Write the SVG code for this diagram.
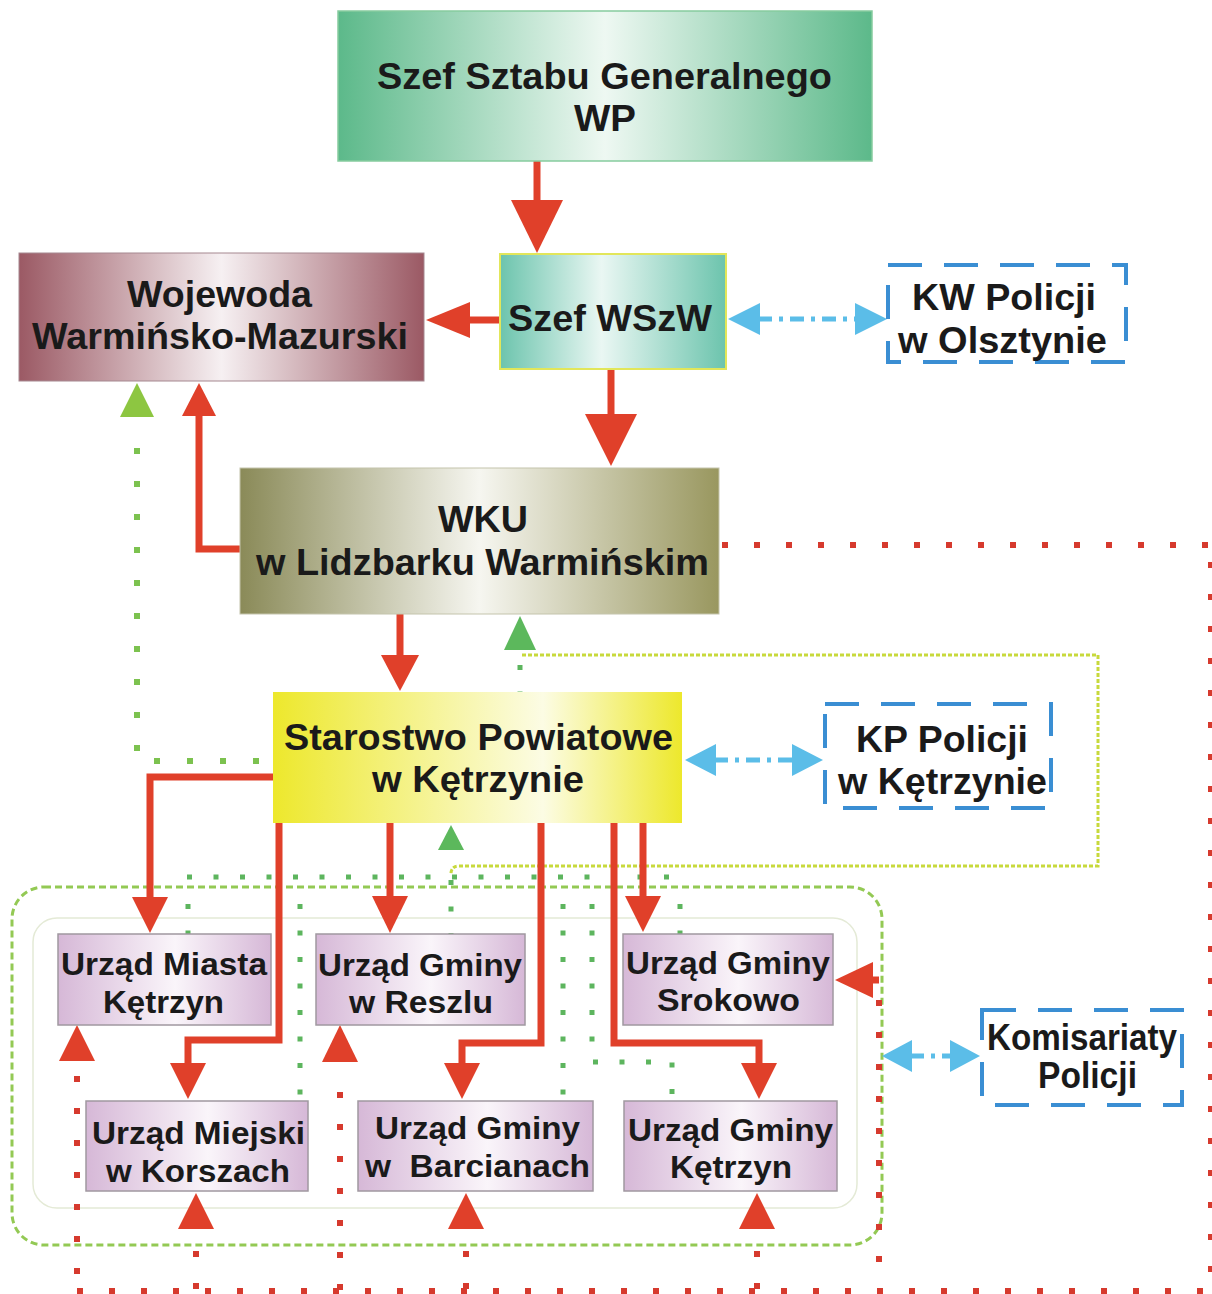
<svg xmlns="http://www.w3.org/2000/svg" width="1212" height="1294" viewBox="0 0 1212 1294">
<defs>
<linearGradient id="gGreen" x1="0" y1="0" x2="1" y2="0"><stop offset="0" stop-color="#5cb98a"/><stop offset="0.5" stop-color="#eef8f2"/><stop offset="1" stop-color="#5cb98a"/></linearGradient>
<linearGradient id="gTeal" x1="0" y1="0" x2="1" y2="0"><stop offset="0" stop-color="#6cc4ad"/><stop offset="0.45" stop-color="#eaf7f3"/><stop offset="1" stop-color="#6cc4ad"/></linearGradient>
<linearGradient id="gMaroon" x1="0" y1="0" x2="1" y2="0"><stop offset="0" stop-color="#9b5964"/><stop offset="0.5" stop-color="#f6f0f2"/><stop offset="1" stop-color="#9b5964"/></linearGradient>
<linearGradient id="gOlive" x1="0" y1="0" x2="1" y2="0"><stop offset="0" stop-color="#8a8a58"/><stop offset="0.5" stop-color="#f6f6f0"/><stop offset="1" stop-color="#99975f"/></linearGradient>
<linearGradient id="gYellow" x1="0" y1="0" x2="1" y2="0"><stop offset="0" stop-color="#ede82c"/><stop offset="0.66" stop-color="#fcfce4"/><stop offset="1" stop-color="#ede82c"/></linearGradient>
<linearGradient id="gPurple" x1="0" y1="0" x2="1" y2="0"><stop offset="0" stop-color="#d6b8d7"/><stop offset="0.55" stop-color="#faf5fa"/><stop offset="1" stop-color="#d6b8d7"/></linearGradient>
<style>
text{font-family:"Liberation Sans",Arial,sans-serif;font-weight:bold;fill:#1a1a1a;text-anchor:middle}
.big{font-size:37px}
.sm{font-size:31px}
.pol{fill:none;stroke:#3a8ed3;stroke-width:4;stroke-dasharray:34 22}
.red{fill:none;stroke:#e0402a;stroke-width:7}
.redf{fill:#e0402a}
.rdot{fill:none;stroke:#d63a2e;stroke-width:6;stroke-dasharray:6 26}
.gdot{fill:none;stroke:#5db55e;stroke-width:5;stroke-dasharray:5 21.5}
.gdotL{fill:none;stroke:#7cc24f;stroke-width:6;stroke-dasharray:6 27}
.blue{fill:none;stroke:#5bbde8;stroke-width:5;stroke-dasharray:14 7 4 7}
.bluef{fill:#5bbde8}
.pbox{fill:url(#gPurple);stroke:#a098a0;stroke-width:1.5}
</style>
</defs>
<rect width="1212" height="1294" fill="#ffffff"/>

<g id="frames">
<rect x="33" y="918" width="824" height="290" rx="24" fill="none" stroke="#e4ead6" stroke-width="1.5"/>
<rect x="12" y="887" width="870" height="358" rx="32" fill="none" stroke="#93c954" stroke-width="3" stroke-dasharray="7 4"/>
</g>

<g id="connectors">
<!-- green dotted -->
<path class="gdotL" d="M137,448 V761 H272"/>
<path class="gdot" d="M520,665 V692"/>
<path class="gdot" d="M187,877 H684"/>
<path class="gdot" d="M188,904 V934"/>
<path class="gdot" d="M300,904 V1095"/>
<path class="gdot" d="M451,880 V934"/>
<path class="gdot" d="M563,904 V1095"/>
<path class="gdot" d="M592,904 V1062 H672 V1095"/>
<path class="gdot" d="M680,904 V934"/>
<path fill="none" stroke="#c8d93c" stroke-width="3" stroke-dasharray="4 2" d="M522,655 H1098 V866 H459 Q451,866 451,874"/>
<path fill="#8dc641" d="M137,383 L154,417 L120,417 Z"/>
<path fill="#5cb85c" d="M520,616 L536,650 L504,650 Z"/>
<path fill="#5cb85c" d="M451,825 L464,850 L438,850 Z"/>

<!-- red dotted -->
<path class="rdot" d="M722,545 H1212"/>
<path class="rdot" d="M1211,562 V1294"/>
<path class="rdot" d="M77,1291 H1212" stroke-dasharray="6 31"/>
<path class="rdot" d="M77,1076 V1291"/>
<path class="rdot" d="M340,1092 V1291"/>
<path class="rdot" d="M196,1251 V1291"/>
<path class="rdot" d="M466,1251 V1291"/>
<path class="rdot" d="M757,1251 V1291"/>
<path class="rdot" d="M879,1000 V1275"/>
<path class="redf" d="M77,1025 L95,1061 L59,1061 Z"/>
<path class="redf" d="M340,1025 L358,1062 L322,1062 Z"/>
<path class="redf" d="M196,1193 L214,1229 L178,1229 Z"/>
<path class="redf" d="M466,1193 L484,1229 L448,1229 Z"/>
<path class="redf" d="M757,1193 L775,1229 L739,1229 Z"/>
<path class="redf" d="M835,980 L873,962 L873,998 Z"/>
<path class="red" d="M873,980 H879" stroke-width="6"/>

<!-- red solid -->
<path class="red" d="M537,161 V202" stroke-width="9"/>
<path class="redf" d="M537,253 L563,200 L511,200 Z"/>
<path class="red" d="M611,369 V416" stroke-width="9"/>
<path class="redf" d="M611,466 L637,414 L585,414 Z"/>
<path class="red" d="M500,320 H468"/>
<path class="redf" d="M426,320 L470,302 L470,338 Z"/>
<path class="red" d="M240,549 H199 V414"/>
<path class="redf" d="M199,383 L216,416 L182,416 Z"/>
<path class="red" d="M400,614 V657"/>
<path class="redf" d="M400,691 L419,655 L381,655 Z"/>
<path class="red" d="M273,777 H150 V899"/>
<path class="redf" d="M150,933 L168,897 L132,897 Z"/>
<path class="red" d="M279,823 V1040 H188 V1065"/>
<path class="redf" d="M188,1099 L206,1063 L170,1063 Z"/>
<path class="red" d="M390,823 V898"/>
<path class="redf" d="M390,933 L408,896 L372,896 Z"/>
<path class="red" d="M541,815 V1043 H462 V1065"/>
<path class="redf" d="M462,1099 L480,1063 L444,1063 Z"/>
<path class="red" d="M614,823 V1043 H759 V1065"/>
<path class="redf" d="M759,1099 L777,1063 L741,1063 Z"/>
<path class="red" d="M643,823 V898"/>
<path class="redf" d="M643,932 L661,896 L625,896 Z"/>

<!-- blue -->
<path class="blue" d="M758,319 H857"/>
<path class="bluef" d="M728,319 L760,303 L760,335 Z"/>
<path class="bluef" d="M887,319 L855,303 L855,335 Z"/>
<path class="blue" d="M714,760 H794"/>
<path class="bluef" d="M685,760 L716,744 L716,776 Z"/>
<path class="bluef" d="M823,760 L792,744 L792,776 Z"/>
<path class="blue" d="M910,1056 H952"/>
<path class="bluef" d="M882,1056 L912,1040 L912,1072 Z"/>
<path class="bluef" d="M980,1056 L950,1040 L950,1072 Z"/>
</g>

<g id="szef-sztabu">
<rect x="338" y="11" width="534" height="150" fill="url(#gGreen)" stroke="#86cc9e" stroke-width="1.5"/>
<text class="big" x="604.5" y="89" textLength="455" lengthAdjust="spacingAndGlyphs">Szef Sztabu Generalnego</text>
<text class="big" x="605" y="131" textLength="62" lengthAdjust="spacingAndGlyphs">WP</text>
</g>

<g id="wojewoda">
<rect x="19" y="253" width="405" height="128" fill="url(#gMaroon)" stroke="#a58890" stroke-width="1"/>
<text class="big" x="219.5" y="307" textLength="185" lengthAdjust="spacingAndGlyphs">Wojewoda</text>
<text class="big" x="220" y="349" textLength="376" lengthAdjust="spacingAndGlyphs">Warmińsko-Mazurski</text>
</g>

<g id="szef-wszw">
<rect x="500" y="254" width="226" height="115" fill="url(#gTeal)" stroke="#e2e65a" stroke-width="2"/>
<text class="big" x="610" y="331" textLength="204" lengthAdjust="spacingAndGlyphs">Szef WSzW</text>
</g>

<g id="kw-policji">
<rect class="pol" x="888" y="265" width="238" height="97"/>
<text class="big" x="1004" y="310" textLength="184" lengthAdjust="spacingAndGlyphs">KW Policji</text>
<text class="big" x="1002.5" y="353" textLength="209" lengthAdjust="spacingAndGlyphs">w Olsztynie</text>
</g>

<g id="wku">
<rect x="240" y="468" width="479" height="146" fill="url(#gOlive)" stroke="#c4c4ac" stroke-width="1"/>
<text class="big" x="483" y="532" textLength="90" lengthAdjust="spacingAndGlyphs">WKU</text>
<text class="big" x="482.5" y="575" textLength="453" lengthAdjust="spacingAndGlyphs">w Lidzbarku Warmińskim</text>
</g>

<g id="starostwo">
<rect x="273" y="692" width="409" height="131" fill="url(#gYellow)"/>
<text class="big" x="478.5" y="750" textLength="389" lengthAdjust="spacingAndGlyphs">Starostwo Powiatowe</text>
<text class="big" x="478" y="792" textLength="212" lengthAdjust="spacingAndGlyphs">w Kętrzynie</text>
</g>

<g id="kp-policji">
<rect class="pol" x="825" y="704" width="226" height="104"/>
<text class="big" x="942" y="752" textLength="172" lengthAdjust="spacingAndGlyphs">KP Policji</text>
<text class="big" x="942.5" y="794" textLength="209" lengthAdjust="spacingAndGlyphs">w Kętrzynie</text>
</g>

<g id="komisariaty">
<rect class="pol" x="982" y="1010" width="200" height="95"/>
<text class="big" x="1082" y="1050" textLength="190" lengthAdjust="spacingAndGlyphs">Komisariaty</text>
<text class="big" x="1087.5" y="1088" textLength="99" lengthAdjust="spacingAndGlyphs">Policji</text>
</g>

<g id="um-ketrzyn">
<rect class="pbox" x="58" y="934" width="213" height="91"/>
<text class="sm" x="164" y="975" textLength="206" lengthAdjust="spacingAndGlyphs">Urząd Miasta</text>
<text class="sm" x="163.5" y="1013" textLength="121" lengthAdjust="spacingAndGlyphs">Kętrzyn</text>
</g>

<g id="ug-reszel">
<rect class="pbox" x="316" y="934" width="209" height="91"/>
<text class="sm" x="420" y="976" textLength="204" lengthAdjust="spacingAndGlyphs">Urząd Gminy</text>
<text class="sm" x="421" y="1013" textLength="144" lengthAdjust="spacingAndGlyphs">w Reszlu</text>
</g>

<g id="ug-srokowo">
<rect class="pbox" x="623" y="934" width="210" height="91"/>
<text class="sm" x="728" y="974" textLength="204" lengthAdjust="spacingAndGlyphs">Urząd Gminy</text>
<text class="sm" x="728.5" y="1011" textLength="143" lengthAdjust="spacingAndGlyphs">Srokowo</text>
</g>

<g id="um-korsze">
<rect class="pbox" x="86" y="1101" width="222" height="90"/>
<text class="sm" x="198.5" y="1144" textLength="213" lengthAdjust="spacingAndGlyphs">Urząd Miejski</text>
<text class="sm" x="198" y="1182" textLength="184" lengthAdjust="spacingAndGlyphs">w Korszach</text>
</g>

<g id="ug-barciany">
<rect class="pbox" x="358" y="1101" width="235" height="90"/>
<text class="sm" x="477.5" y="1139" textLength="205" lengthAdjust="spacingAndGlyphs">Urząd Gminy</text>
<text class="sm" x="477.5" y="1177" textLength="225" lengthAdjust="spacingAndGlyphs" xml:space="preserve">w  Barcianach</text>
</g>

<g id="ug-ketrzyn">
<rect class="pbox" x="624" y="1101" width="213" height="90"/>
<text class="sm" x="730.5" y="1141" textLength="205" lengthAdjust="spacingAndGlyphs">Urząd Gminy</text>
<text class="sm" x="731" y="1178" textLength="122" lengthAdjust="spacingAndGlyphs">Kętrzyn</text>
</g>
</svg>
